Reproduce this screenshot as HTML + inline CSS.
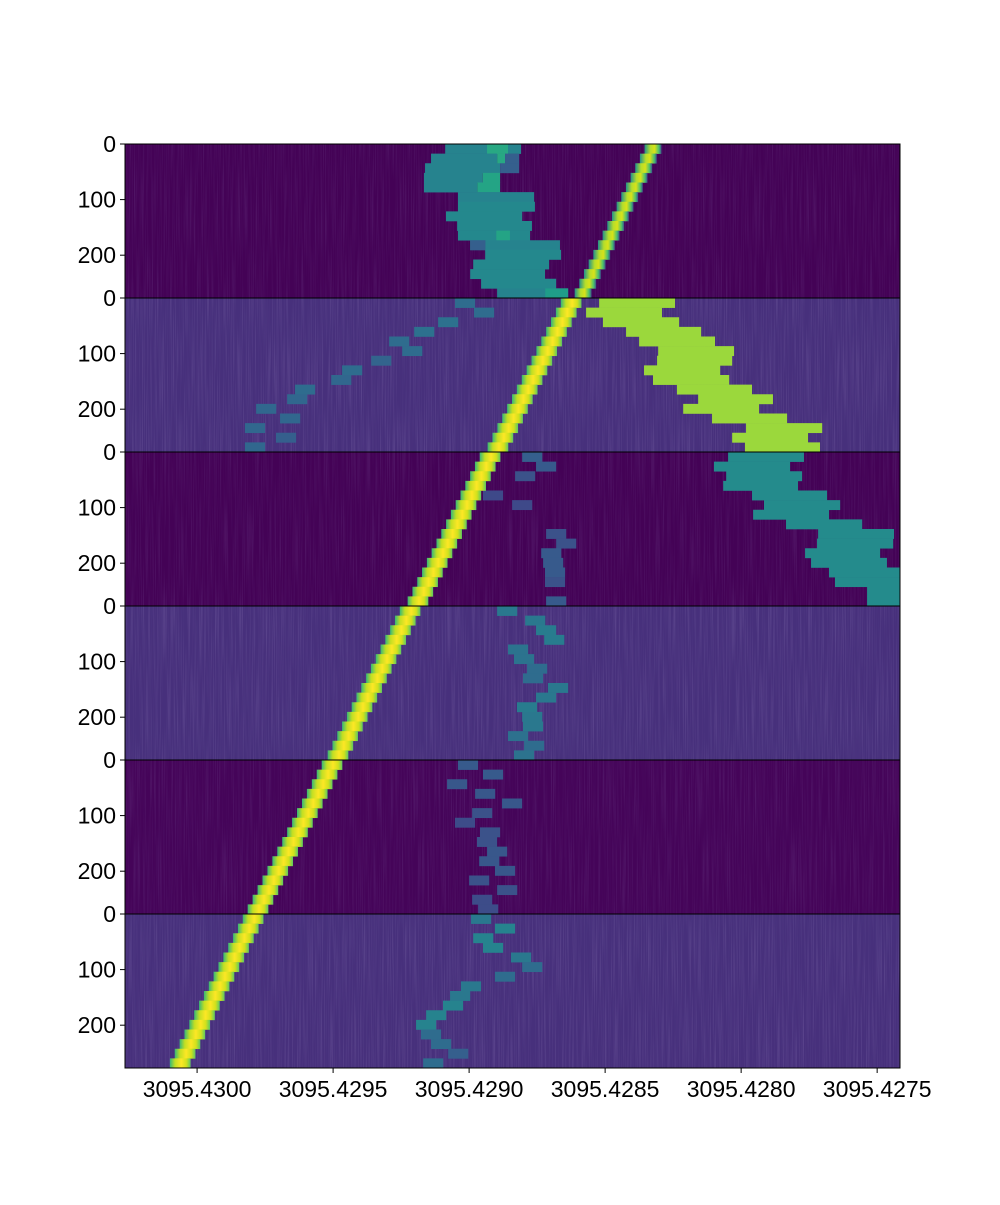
<!DOCTYPE html>
<html><head><meta charset="utf-8"><style>
html,body{margin:0;padding:0;background:#fff;}
svg text{font-family:"Liberation Sans",sans-serif;font-size:23px;fill:#000;}
</style></head><body>
<svg id="chart" width="1000" height="1200" viewBox="0 0 1000 1200" xmlns="http://www.w3.org/2000/svg">
<defs>
<filter id="streaks" x="0" y="0" width="100%" height="100%">
<feTurbulence type="fractalNoise" baseFrequency="0.9 0.012" numOctaves="2" seed="3"/>
<feColorMatrix type="matrix" values="0 0 0 0 0.28  0 0 0 0 0.2  0 0 0 0 0.48  0 0 0 1.6 -0.7"/>
</filter>
<linearGradient id="lineGrad" x1="0" x2="1" y1="0" y2="0">
<stop offset="0" stop-color="#35b779"/><stop offset="0.25" stop-color="#c2df23"/><stop offset="0.55" stop-color="#fde725"/><stop offset="0.8" stop-color="#d0e11c"/><stop offset="1" stop-color="#5ec962"/>
</linearGradient>
<linearGradient id="lineGrad1" x1="0" x2="1" y1="0" y2="0">
<stop offset="0" stop-color="#21918c"/><stop offset="0.35" stop-color="#b5de2b"/><stop offset="0.6" stop-color="#d8e219"/><stop offset="0.85" stop-color="#4ac16d"/><stop offset="1" stop-color="#3b528b"/>
</linearGradient>
</defs>
<g id="plot"></g>
<g id="axes"></g>
</svg>
<script>
// Data: wavelength shift in micro-Angstrom below 3095.4300 (d = (3095.4300 - wl)*1e6)
const xTickValues=[0,500,1000,1500,2000,2500];
const xTickLabels=["3095.4300","3095.4295","3095.4290","3095.4285","3095.4280","3095.4275"];
const yTickValues=[0,100,200];
const panelCount=6;
const rowsPerPanel=16;
const panelBg=["#440256","#47307c","#440256","#47307c","#450459","#47307c"];
const lineStart=[1676,1375,1077,783,496,206];
const lineEnd=[1419,1106,812,518,224,-62];
const lineWidthD=[62,76,76,76,76,76];
// blobs: [panel,row,dLeft,dRight,level]
const blobs=[
[0,0,912,1191,0.45],[0,0,1066,1143,0.6],[0,1,860,1103,0.45],[0,1,1103,1132,0.6],[0,1,1132,1184,0.3],[0,2,838,1114,0.45],[0,2,1114,1184,0.3],
[0,3,834,1050,0.45],[0,3,1050,1114,0.58],[0,4,834,1030,0.45],[0,4,1030,1114,0.58],[0,5,959,1239,0.45],[0,6,959,1242,0.47],[0,7,915,1195,0.47],
[0,8,956,1231,0.47],[0,9,959,1224,0.47],[0,9,1100,1150,0.58],[0,10,1004,1334,0.45],[0,10,1004,1060,0.3],[0,11,1059,1338,0.47],[0,12,1015,1294,0.47],
[0,13,1004,1279,0.47],[0,14,1044,1320,0.47],[0,15,1103,1364,0.45],[0,15,1280,1364,0.55],
[1,0,948,1022,0.35],[1,1,1018,1092,0.35],[1,2,886,960,0.37],[1,3,798,872,0.37],[1,4,706,780,0.35],[1,5,754,828,0.35],[1,6,640,714,0.32],[1,7,533,607,0.35],
[1,8,493,567,0.33],[1,9,360,434,0.35],[1,10,331,405,0.33],[1,11,217,291,0.33],[1,12,305,379,0.33],[1,13,176,250,0.33],[1,14,290,364,0.3],[1,15,176,250,0.33],
[1,0,1478,1757,0.85],[1,1,1430,1709,0.85],[1,2,1492,1772,0.85],[1,3,1577,1853,0.85],[1,4,1625,1904,0.85],[1,5,1695,1974,0.85],[1,6,1691,1967,0.85],[1,7,1643,1923,0.85],
[1,8,1676,1956,0.85],[1,9,1764,2040,0.85],[1,10,1842,2117,0.85],[1,11,1787,2066,0.85],[1,12,1893,2169,0.85],[1,13,2018,2298,0.85],[1,14,1967,2246,0.85],[1,15,2014,2290,0.85],
[2,0,1952,2231,0.48],[2,1,1900,2180,0.48],[2,2,1945,2224,0.48],[2,3,1934,2209,0.48],[2,4,2040,2316,0.48],[2,5,2084,2364,0.48],[2,6,2044,2323,0.48],[2,7,2165,2445,0.48],
[2,8,2283,2562,0.48],[2,9,2279,2559,0.48],[2,10,2235,2511,0.48],[2,11,2257,2536,0.48],[2,12,2323,2584,0.48],[2,13,2345,2584,0.48],[2,14,2463,2584,0.48],[2,15,2463,2584,0.48],
[2,0,1195,1269,0.3],[2,1,1246,1320,0.28],[2,2,1169,1243,0.25],[2,4,1051,1125,0.22],[2,5,1158,1232,0.22],[2,8,1283,1357,0.25],[2,9,1320,1394,0.25],[2,10,1265,1339,0.28],
[2,11,1272,1346,0.28],[2,12,1279,1353,0.28],[2,13,1279,1353,0.25],[2,15,1283,1357,0.28],
[3,0,1103,1177,0.4],[3,1,1206,1280,0.4],[3,2,1246,1320,0.42],[3,3,1276,1350,0.42],[3,4,1143,1217,0.38],[3,5,1165,1239,0.38],[3,6,1213,1287,0.35],[3,7,1198,1272,0.35],
[3,8,1290,1364,0.4],[3,9,1246,1320,0.4],[3,10,1176,1250,0.42],[3,11,1195,1269,0.4],[3,12,1198,1272,0.4],[3,13,1143,1217,0.37],[3,14,1202,1276,0.35],[3,15,1165,1239,0.38],
[4,0,959,1033,0.28],[4,1,1051,1125,0.28],[4,2,919,993,0.27],[4,3,1022,1096,0.27],[4,4,1121,1195,0.27],[4,5,1011,1085,0.25],[4,6,948,1022,0.23],[4,7,1040,1114,0.25],
[4,8,1029,1103,0.25],[4,9,1066,1140,0.27],[4,10,1037,1111,0.27],[4,11,1095,1169,0.27],[4,12,1000,1074,0.25],[4,13,1103,1177,0.25],[4,14,1011,1085,0.23],[4,15,1033,1107,0.23],
[5,0,1007,1081,0.4],[5,1,1095,1169,0.45],[5,2,1015,1089,0.45],[5,3,1051,1125,0.45],[5,4,1154,1228,0.4],[5,5,1195,1269,0.35],[5,6,1095,1169,0.35],[5,7,970,1044,0.4],
[5,8,930,1004,0.4],[5,9,904,978,0.45],[5,10,842,916,0.45],[5,11,805,879,0.45],[5,12,823,897,0.35],[5,13,860,934,0.35],[5,14,923,997,0.3],[5,15,831,905,0.35]
];
const plotL=125,plotR=900,plotT=144,plotB=1068;
const dMin=-265,dMax=2584;
const panelH=(plotB-plotT)/panelCount, rowH=panelH/rowsPerPanel, yMaxUnits=277;
function xScale(d){return plotL+(d-dMin)/(dMax-dMin)*(plotR-plotL);}
function yScale(panel,v){return plotT+panel*panelH+v/yMaxUnits*panelH;}
function rowY(panel,row){return plotT+panel*panelH+row*rowH;}
const vir=[[68,1,84],[72,40,120],[62,74,137],[49,104,142],[38,130,142],[31,158,137],[53,183,121],[109,205,89],[180,222,44],[253,231,37]];
function viridis(t){t=Math.max(0,Math.min(1,t));const p=t*(vir.length-1),i=Math.min(vir.length-2,Math.floor(p)),f=p-i;
const c=vir[i].map((a,k)=>Math.round(a+(vir[i+1][k]-a)*f));return `rgb(${c[0]},${c[1]},${c[2]})`;}
const NS="http://www.w3.org/2000/svg";
function mk(tag,attrs,parent){const e=document.createElementNS(NS,tag);for(const k in attrs)e.setAttribute(k,attrs[k]);parent.appendChild(e);return e;}
const plot=document.getElementById('plot'),axes=document.getElementById('axes');
for(let p=0;p<panelCount;p++){
 const g=mk('g',{},plot);
 
 
 const bg=mk('rect',{x:plotL,y:plotT+p*panelH,width:plotR-plotL,height:panelH,fill:panelBg[p]},g);
 
 
 const nz=mk('rect',{x:plotL,y:plotT+p*panelH,width:plotR-plotL,height:panelH,filter:'url(#streaks)',opacity:p%2===0?0.25:0.4},g);
 
 
}
blobs.forEach(b=>{
 const [p,r,l,rt,lv]=b;
 const e=mk('rect',{x:xScale(l),y:rowY(p,r),width:xScale(rt)-xScale(l),height:rowH+0.3,fill:viridis(lv)},plot);
 
 
});
for(let p=0;p<panelCount;p++){
 for(let r=0;r<rowsPerPanel;r++){
  const c=lineStart[p]+(lineEnd[p]-lineStart[p])*r/(rowsPerPanel-1);
  const w=lineWidthD[p];
  const e=mk('rect',{x:xScale(c-w/2),y:rowY(p,r),width:xScale(c+w/2)-xScale(c-w/2),height:rowH+0.3,fill:p===0?'url(#lineGrad1)':'url(#lineGrad)'},plot);
  
  
 }
}
for(let p=1;p<panelCount;p++){
 const e=mk('line',{x1:plotL,x2:plotR,y1:plotT+p*panelH,y2:plotT+p*panelH,stroke:'#000','stroke-width':1},axes);
 
 
}
const fr=mk('rect',{x:plotL,y:plotT,width:plotR-plotL,height:plotB-plotT,fill:'none',stroke:'#000','stroke-width':1},axes);


for(let p=0;p<panelCount;p++){
 yTickValues.forEach(v=>{
  const y=yScale(p,v);
  const t=mk('line',{x1:plotL-5,x2:plotL,y1:y,y2:y,stroke:'#000'},axes);
  
  
  const tx=mk('text',{x:plotL-9,y:y+8,'text-anchor':'end'},axes);
  tx.textContent=v;
  
  
 });
}
xTickValues.forEach((v,i)=>{
 const x=xScale(v);
 const t=mk('line',{x1:x,x2:x,y1:plotB,y2:plotB+5,stroke:'#000'},axes);
 
 
 const tx=mk('text',{x:x,y:plotB+29,'text-anchor':'middle'},axes);
 tx.textContent=xTickLabels[i];
 
 
});
</script>
</body></html>
